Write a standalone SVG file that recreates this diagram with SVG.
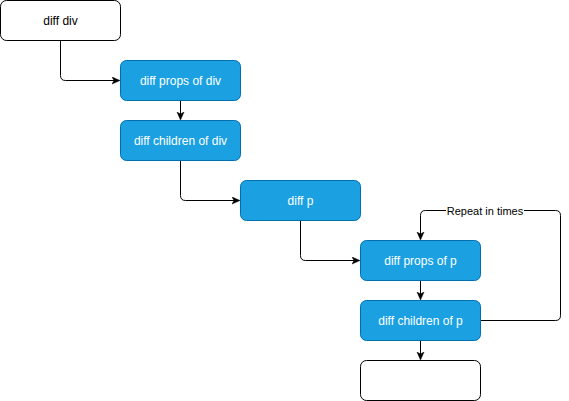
<svg xmlns="http://www.w3.org/2000/svg" width="569" height="401" viewBox="0 0 569 401">
<style>
.w{fill:#ffffff;stroke:#000000;stroke-width:1}
.b{fill:#1ba1e2;stroke:#006eaf;stroke-width:1}
.t{font-family:"Liberation Sans",Arial,sans-serif;font-size:12px;text-anchor:middle;dominant-baseline:central}
.tw{fill:#ffffff}
.tb{fill:#000000}
.c{fill:none;stroke:#000000;stroke-width:1;marker-end:url(#a)}
.lbl{font-family:"Liberation Sans",Arial,sans-serif;font-size:11px;text-anchor:middle;dominant-baseline:central;fill:#000000}
</style>
<defs>
<marker id="a" markerWidth="10" markerHeight="10" refX="7" refY="4" orient="auto" markerUnits="userSpaceOnUse">
<path d="M0,0.5 L8,4 L0,7.5 L2,4 Z" fill="#000000" stroke="#000000" stroke-width="0.5"/>
</marker>
</defs>
<g id="connectors">
<path class="c" d="M60.5,40.5 V75.5 Q60.5,80.5 65.5,80.5 H119"/>
<path class="c" d="M180.5,100.5 V119"/>
<path class="c" d="M180.5,160.5 V195.5 Q180.5,200.5 185.5,200.5 H239"/>
<path class="c" d="M300.5,220.5 V255.5 Q300.5,260.5 305.5,260.5 H359"/>
<path class="c" d="M420.5,280.5 V299"/>
<path class="c" d="M420.5,340.5 V359"/>
<path class="c" d="M480.5,320.5 H555.5 Q560.5,320.5 560.5,315.5 V215.5 Q560.5,210.5 555.5,210.5 H425.5 Q420.5,210.5 420.5,215.5 V239"/>
<rect x="446" y="204" width="78" height="13" fill="#ffffff"/>
<text class="lbl" x="485" y="210.5">Repeat in times</text>
</g>
<g id="diff-div"><rect class="w" x="0.5" y="0.5" width="120" height="40" rx="6"/><text class="t tb" x="60.5" y="20.5">diff div</text></g>
<g id="diff-props-div"><rect class="b" x="120.5" y="60.5" width="120" height="40" rx="6"/><text class="t tw" x="180.5" y="80.5">diff props of div</text></g>
<g id="diff-children-div"><rect class="b" x="120.5" y="120.5" width="120" height="40" rx="6"/><text class="t tw" x="180.5" y="140.5">diff children of div</text></g>
<g id="diff-p"><rect class="b" x="240.5" y="180.5" width="120" height="40" rx="6"/><text class="t tw" x="300.5" y="200.5">diff p</text></g>
<g id="diff-props-p"><rect class="b" x="360.5" y="240.5" width="120" height="40" rx="6"/><text class="t tw" x="420.5" y="260.5">diff props of p</text></g>
<g id="diff-children-p"><rect class="b" x="360.5" y="300.5" width="120" height="40" rx="6"/><text class="t tw" x="420.5" y="320.5">diff children of p</text></g>
<g id="empty"><rect class="w" x="360.5" y="360.5" width="120" height="40" rx="6"/></g>
</svg>
